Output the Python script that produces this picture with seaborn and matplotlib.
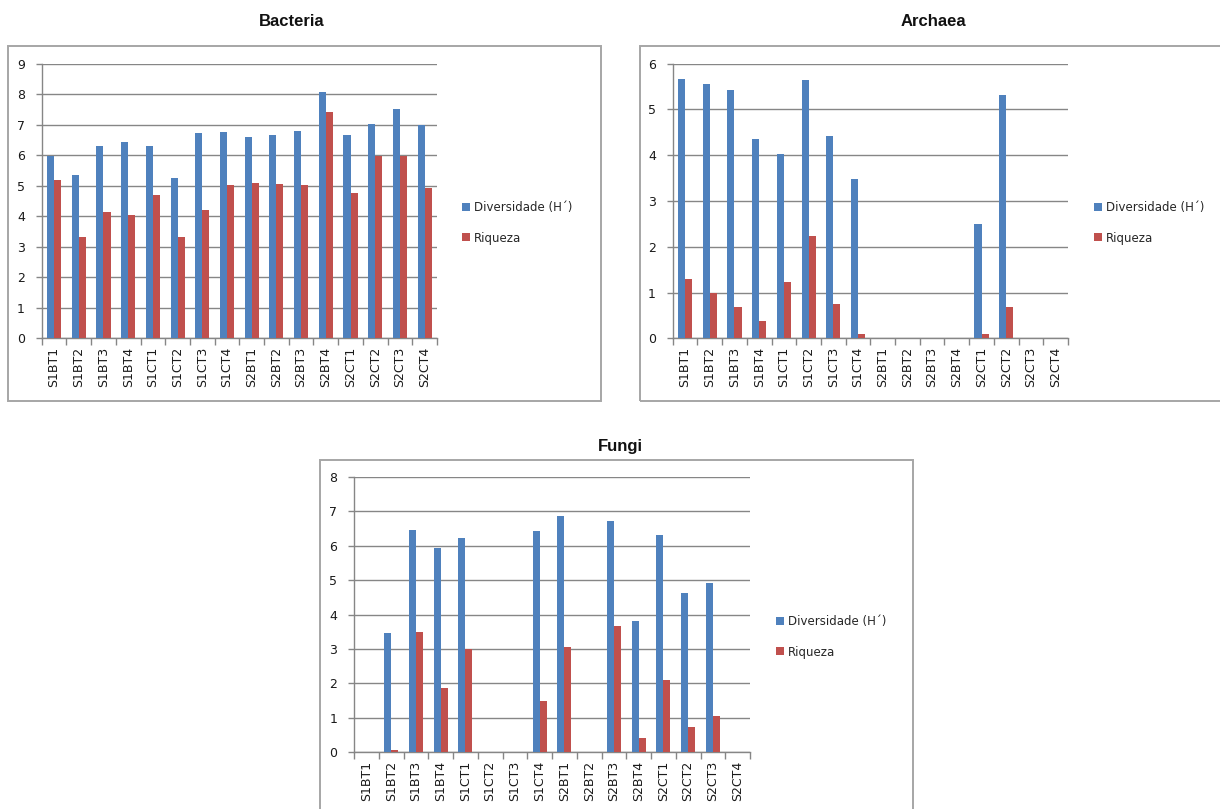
import numpy as np
import pandas as pd
import matplotlib
matplotlib.use("Agg")
import matplotlib.pyplot as plt
from matplotlib.patches import Patch, Rectangle
import seaborn as sns

# Sample labels shared by all three panels
amostras = ["S1BT1", "S1BT2", "S1BT3", "S1BT4", "S1CT1", "S1CT2", "S1CT3", "S1CT4",
            "S2BT1", "S2BT2", "S2BT3", "S2BT4", "S2CT1", "S2CT2", "S2CT3", "S2CT4"]

# Bacteria
bacteria_diversidade = [5.97, 5.34, 6.31, 6.43, 6.31, 5.26, 6.72, 6.76,
                        6.60, 6.67, 6.80, 8.06, 6.67, 7.04, 7.53, 6.99]
bacteria_riqueza = [5.18, 3.32, 4.13, 4.05, 4.70, 3.32, 4.20, 5.01,
                    5.10, 5.06, 5.01, 7.42, 4.77, 5.96, 5.96, 4.94]

# Archaea
archaea_diversidade = [5.67, 5.56, 5.43, 4.35, 4.03, 5.64, 4.43, 3.49,
                       0, 0, 0, 0, 2.49, 5.32, 0, 0]
archaea_riqueza = [1.30, 0.98, 0.68, 0.38, 1.22, 2.24, 0.76, 0.09,
                   0, 0, 0, 0, 0.09, 0.68, 0, 0]

# Fungi
fungi_diversidade = [0, 3.46, 6.47, 5.93, 6.22, 0, 0, 6.43,
                     6.86, 0, 6.71, 3.82, 6.32, 4.64, 4.92, 0]
fungi_riqueza = [0, 0.08, 3.49, 1.88, 3.00, 0, 0, 1.48,
                 3.06, 0, 3.67, 0.41, 2.09, 0.74, 1.06, 0]

series_nomes = ["Diversidade (H´)", "Riqueza"]
cores = ["#4F81BD", "#C0504D"]

W, H = 1220, 809
sns.set_theme(style="white")
plt.rcParams["font.family"] = ["DejaVu Sans"]

fig = plt.figure(figsize=(W / 100, H / 100), dpi=100)
fig.patch.set_facecolor("white")

GRID = "#868686"
BORDA = "#A6A6A6"


def px_axes(x0, y0, x1, y1):
    return fig.add_axes([x0 / W, 1 - y1 / H, (x1 - x0) / W, (y1 - y0) / H])


def moldura(x0, y0, x1, y1):
    fig.patches.append(Rectangle((x0 / W, 1 - y1 / H), (x1 - x0) / W, (y1 - y0) / H,
                                 transform=fig.transFigure, fill=False,
                                 edgecolor=BORDA, linewidth=1.4, zorder=0))


def painel(box, area, titulo, titulo_xy, diversidade, riqueza, ymax, legenda_xy):
    moldura(*box)
    ax = px_axes(*area)
    df = pd.DataFrame({
        "Amostra": amostras * 2,
        "Valor": list(diversidade) + list(riqueza),
        "Série": [series_nomes[0]] * len(amostras) + [series_nomes[1]] * len(amostras),
    })
    sns.barplot(data=df, x="Amostra", y="Valor", hue="Série", order=amostras,
                hue_order=series_nomes, palette=cores, saturation=1, width=0.57,
                linewidth=0, legend=False, ax=ax, zorder=3)
    ax.set_xlim(-0.5, len(amostras) - 0.5)
    ax.set_ylim(0, ymax)
    ax.set_yticks(range(0, ymax + 1))
    ax.set_xlabel("")
    ax.set_ylabel("")
    ax.yaxis.grid(True, color=GRID, linewidth=1.0, zorder=0)
    ax.xaxis.grid(False)
    ax.set_axisbelow(True)
    for s in ["top", "right"]:
        ax.spines[s].set_visible(False)
    for s in ["left", "bottom"]:
        ax.spines[s].set_color(GRID)
        ax.spines[s].set_linewidth(1.0)
    ax.set_xticks(np.arange(-0.5, len(amostras), 1), minor=True)
    ax.tick_params(axis="x", which="major", length=0, labelsize=9, rotation=90, pad=6,
                   labelcolor="#1a1a1a")
    ax.tick_params(axis="x", which="minor", length=5, color=GRID, width=1, direction="out",
                   bottom=True)
    ax.tick_params(axis="y", which="major", length=4, color=GRID, width=1, direction="out",
                   labelsize=9, pad=8, labelcolor="#1a1a1a", left=True)
    fig.text(titulo_xy[0] / W, 1 - titulo_xy[1] / H, titulo, ha="center", va="center",
             fontsize=12, fontweight="bold", family="Liberation Sans", color="#111111")
    handles = [Patch(facecolor=c, edgecolor="none") for c in cores]
    fig.legend(handles, series_nomes, loc="center left",
               bbox_to_anchor=(legenda_xy[0] / W, 1 - legenda_xy[1] / H),
               frameon=False, fontsize=8.5, handlelength=0.65, handleheight=0.65,
               handletextpad=0.35, labelspacing=1.45, borderpad=0, borderaxespad=0)
    return ax


painel(box=(8, 46, 601, 401), area=(41.7, 63.7, 437, 338.3), titulo="Bacteria",
       titulo_xy=(292, 22), diversidade=bacteria_diversidade, riqueza=bacteria_riqueza,
       ymax=9, legenda_xy=(462, 223))

painel(box=(640, 46, 1240, 401), area=(672.7, 63.7, 1068, 338.3), titulo="Archaea",
       titulo_xy=(933, 22), diversidade=archaea_diversidade, riqueza=archaea_riqueza,
       ymax=6, legenda_xy=(1094, 223))

painel(box=(320, 460, 913, 830), area=(354, 477, 750, 752.3), titulo="Fungi",
       titulo_xy=(620, 446), diversidade=fungi_diversidade, riqueza=fungi_riqueza,
       ymax=8, legenda_xy=(776, 637))

fig.savefig("out.png", dpi=100, facecolor="white")
